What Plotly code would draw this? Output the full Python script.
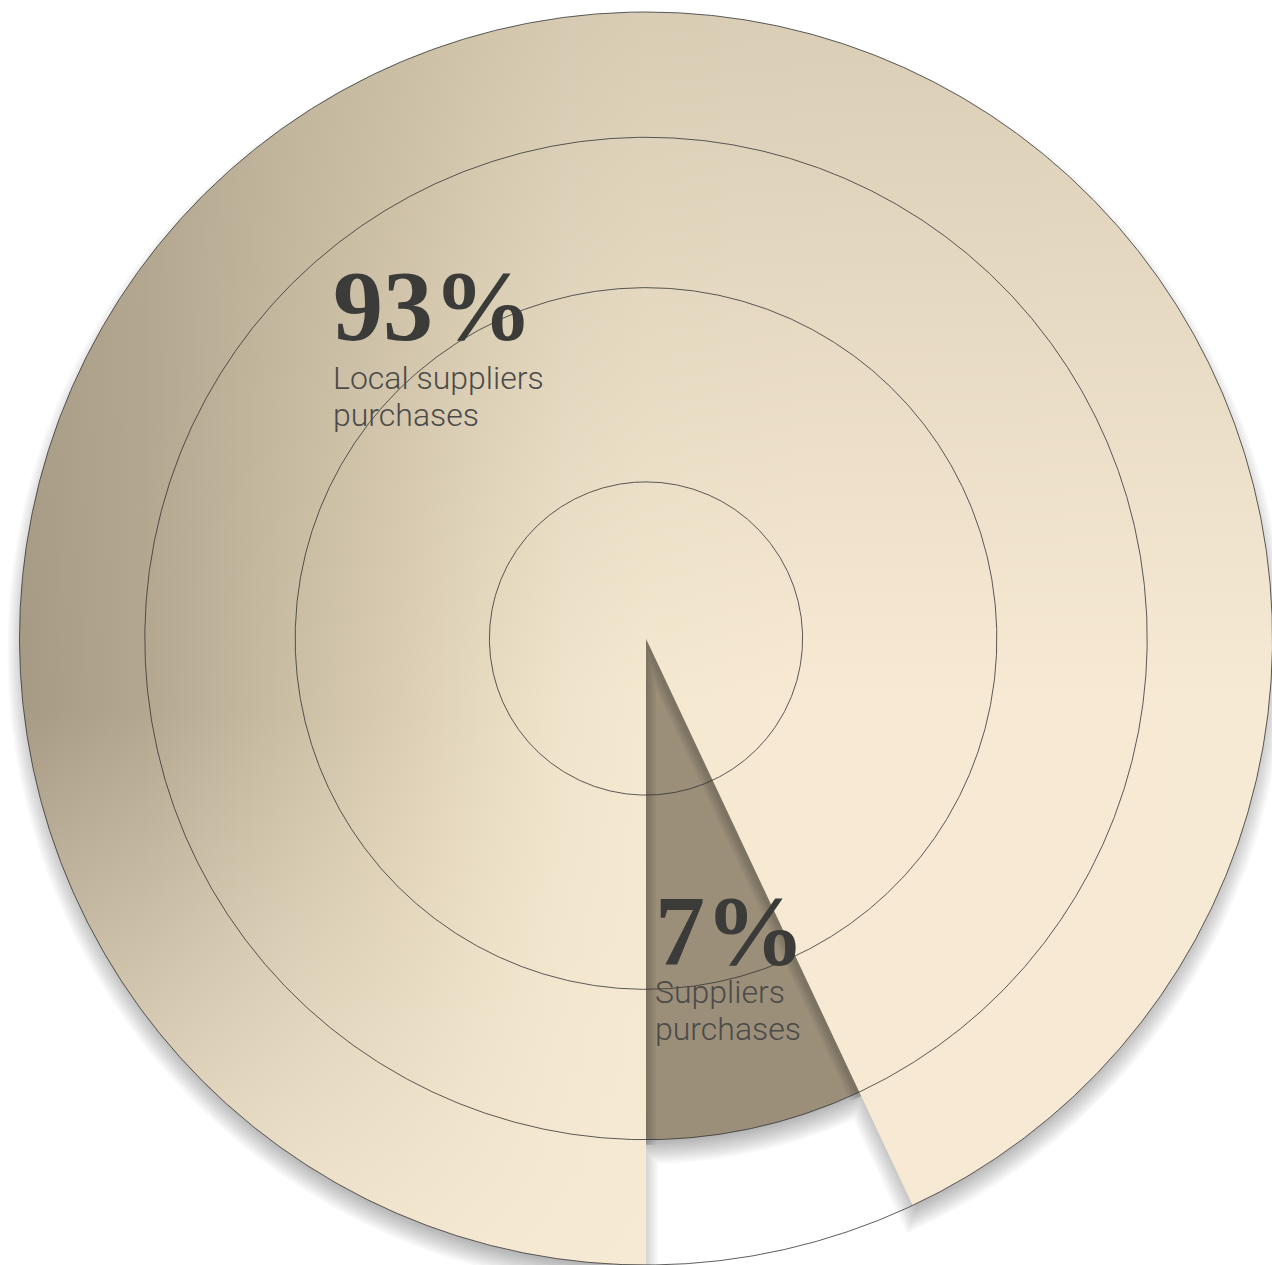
import numpy as np
import plotly.graph_objects as go

# ---------------- data ----------------
labels = ["Local suppliers purchases", "Suppliers purchases"]
values = [93, 7]
value_text = ["93%", "7%"]
caption_lines = [["Local suppliers", "purchases"], ["Suppliers", "purchases"]]
slice_radius = [1.0, 0.8]              # relative radius of each slice
ring_levels = [0.25, 0.56, 0.80, 1.0]  # reference rings (relative radius)

# ---------------- geometry / style ----------------
W, H = 1272, 1265
CX, CY = 646.0, 638.5      # pixel centre of the pie
R = 626.5                  # outer radius in pixels (1 data unit = 1 px)
START = 180.0              # first slice starts at 6 o'clock, goes clockwise


def px2d(px, py):
    return px - CX, CY - py


def arc(r, a0, a1, n=None):
    if n is None:
        n = max(int(abs(a1 - a0) * 4), 8)
    th = np.radians(np.linspace(a0, a1, n))
    return list(r * np.sin(th)), list(r * np.cos(th))


total = float(sum(values))
bounds = [START]
for v in values:
    bounds.append(bounds[-1] + 360.0 * v / total)

r_big = R * slice_radius[0]
r_small = R * slice_radius[1]

# big slice polygon
ax_, ay_ = arc(r_big, bounds[0], bounds[1])
big_x = [0.0] + ax_ + [0.0]
big_y = [0.0] + ay_ + [0.0]
# small slice polygon
bx_, by_ = arc(r_small, bounds[1], bounds[2])
sm_x = [0.0] + bx_ + [0.0]
sm_y = [0.0] + by_ + [0.0]


def union_offset(d):
    """Outline of (big slice U small slice) grown by d px (negative = shrunk)."""
    def e(rho):
        return np.degrees(np.arctan2(d, np.sqrt(max(rho * rho - d * d, 1.0))))
    ro, ri = r_big + d, r_small + d
    ox, oy = arc(ro, bounds[0] - e(ro), bounds[1] + e(ro))
    ix, iy = arc(ri, bounds[1] + e(ri), bounds[2] - e(ri))
    xs = ox + ix + [ox[0]]
    ys = oy + iy + [oy[0]]
    return xs, ys


fig = go.Figure()

# --- soft drop shadow of whole pie (stack of grown/shrunk outlines) ---
DY = 12
for d in np.linspace(-12, 12, 11):
    sx, sy = union_offset(d)
    fig.add_trace(go.Scatter(x=sx, y=[v - DY for v in sy], mode="lines", fill="toself",
                             fillcolor="rgba(0,0,0,0.032)",
                             line=dict(width=0, color="rgba(0,0,0,0)"), hoverinfo="skip"))

# --- small (7%) slice ---
fig.add_trace(go.Scatter(x=sm_x, y=sm_y, mode="lines", fill="toself",
                         fillcolor="#9b8f7a", line=dict(width=0, color="rgba(0,0,0,0)"),
                         name=labels[1], hoverinfo="skip"))

# --- shadow cast by big slice edges onto the small slice ---
ex0, ey0 = arc(r_small, bounds[0], bounds[0], 2)
ex1, ey1 = arc(r_small, bounds[1], bounds[1], 2)
vx = [ex0[0], 0.0, ex1[0]]
vy = [ey0[0] - 5, -5, ey1[0] - 5]
for k in range(1, 6):
    fig.add_trace(go.Scatter(x=vx, y=vy, mode="lines",
                             line=dict(width=4 * k, color="rgba(0,0,0,0.04)"),
                             hoverinfo="skip"))

# --- big (93%) slice with gradient ---
def tx(px):
    return (px - (CX - R)) / (2 * R)

h_scale = [
    [0.0, "#a69a84"],
    [tx(145), "#b3a790"],
    [tx(296), "#cbbfa6"],
    [tx(400), "#dacdb3"],
    [tx(490), "#e7dbc1"],
    [tx(560), "#efe3cb"],
    [tx(646), "#f5e8d0"],
    [tx(800), "#f7e9d3"],
    [1.0, "#f7ead4"],
]
fig.add_trace(go.Scatter(x=big_x, y=big_y, mode="lines", fill="toself",
                         fillgradient=dict(type="horizontal", colorscale=h_scale,
                                           start=-R, stop=R),
                         line=dict(width=0, color="rgba(0,0,0,0)"),
                         name=labels[0], hoverinfo="skip"))


def ty(py):
    return ((CY - py) + R) / (2 * R)

v_scale = [
    [0.0, "rgba(247,234,212,0.9)"],
    [ty(710), "rgba(247,234,212,0)"],
    [ty(700), "rgba(178,167,142,0)"],
    [1.0, "rgba(178,167,142,0.42)"],
]
fig.add_trace(go.Scatter(x=big_x, y=big_y, mode="lines", fill="toself",
                         fillgradient=dict(type="vertical", colorscale=v_scale,
                                           start=-R, stop=R),
                         line=dict(width=0, color="rgba(0,0,0,0)"),
                         hoverinfo="skip"))

# --- rings ---
for lev in ring_levels:
    rx, ry = arc(R * lev, 0, 360, 1440)
    fig.add_trace(go.Scatter(x=rx, y=ry, mode="lines",
                             line=dict(width=0.8, color="#333333"), hoverinfo="skip"))

# --- text ---
num_font = dict(family="Liberation Serif", size=100, color="#3b3b39", weight="bold")
cap_font = dict(family="Roboto", size=32, color="#4b4b49", weight=300)

num_pos = [(331, 305), (653, 930)]          # left, vertical middle (px)
cap_pos = [[(331, 378), (331, 415)], [(653, 992), (653, 1029)]]

ann = []
for i in range(len(values)):
    x, y = px2d(*num_pos[i])
    ann.append(dict(x=x, y=y, xref="x", yref="y", text=value_text[i], showarrow=False,
                    xanchor="left", yanchor="middle", valign="middle", height=84,
                    font=num_font))
    for j, line in enumerate(caption_lines[i]):
        x, y = px2d(*cap_pos[i][j])
        ann.append(dict(x=x, y=y, xref="x", yref="y", text=line, showarrow=False,
                        xanchor="left", yanchor="middle", font=cap_font))

x0, y1 = px2d(0, 0)
x1, y0 = px2d(W, H)
fig.update_layout(
    width=W, height=H, margin=dict(l=0, r=0, t=0, b=0),
    paper_bgcolor="white", plot_bgcolor="white", showlegend=False,
    xaxis=dict(range=[x0, x1], visible=False, fixedrange=True),
    yaxis=dict(range=[y0, y1], visible=False, fixedrange=True),
    annotations=ann,
)

fig.write_html("out.html", config={"displayModeBar": False},
               post_script="document.body.style.margin='0';document.body.style.overflow='hidden';")
